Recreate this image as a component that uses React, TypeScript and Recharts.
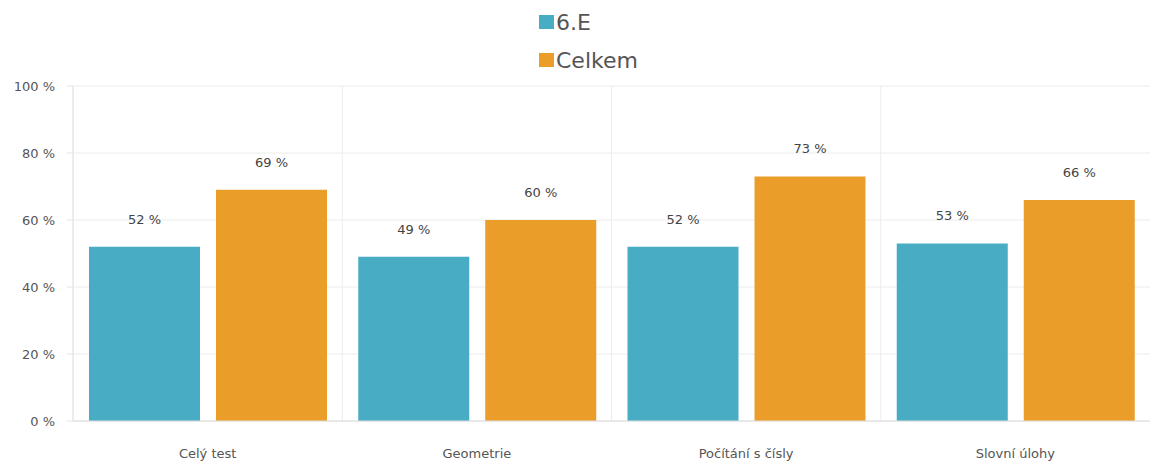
import React from "react";
import { BarChart, Bar, XAxis, YAxis, CartesianGrid, Legend, LabelList } from "recharts";

const categories = ["Celý test", "Geometrie", "Počítání s čísly", "Slovní úlohy"];
const classValues = [52, 49, 52, 53];
const totalValues = [69, 60, 73, 66];
const yTicks = [0, 20, 40, 60, 80, 100];

const series = [
  { key: "trida", name: "6.E", color: "#48adc4" },
  { key: "celkem", name: "Celkem", color: "#ea9e29" },
];

const data = categories.map((c, i) => ({ name: c, trida: classValues[i], celkem: totalValues[i] }));

const font = "'DejaVu Sans', Verdana, sans-serif";

// legend box sits absolutely so it doesn't eat plot space
function LegendBox() {
  return (
    <div style={{ position: "absolute", left: 539, top: 9, fontFamily: font }}>
      {series.map((s) => (
        <div key={s.key} style={{ display: "flex", alignItems: "center", height: 26, marginBottom: 12 }}>
          <span style={{ width: 15, height: 14, background: s.color, display: "inline-block", marginRight: 2 }} />
          <span style={{ fontSize: 22, color: "#555" }}>{s.name}</span>
        </div>
      ))}
    </div>
  );
}

export default function App() {
  return (
    <div style={{ position: "absolute", left: 0, top: 0, width: 1150, height: 464, background: "#fff" }}>
      <BarChart
        width={1150}
        height={464}
        data={data}
        margin={{ top: 86, right: 0, bottom: 0, left: 0 }}
        barCategoryGap={16}
        barGap={16}
      >
        <CartesianGrid
          stroke="#ececec"
          verticalCoordinatesGenerator={({ offset }: any) =>
            categories.map((_, i) => offset.left + (i * offset.width) / categories.length)
          }
        />
        <XAxis
          dataKey="name"
          height={43}
          tickLine={false}
          axisLine={{ stroke: "#dcdcdc" }}
          tickMargin={22}
          tick={{ fontSize: 13, fill: "#555", fontFamily: font }}
        />
        <YAxis
          width={73}
          domain={[0, 100]}
          ticks={yTicks}
          tickFormatter={(v: number) => `${v} %`}
          axisLine={{ stroke: "#e4e4e4" }}
          tickLine={{ stroke: "#e4e4e4" }}
          tickSize={6}
          tickMargin={12}
          tick={{ fontSize: 13, fill: "#555", fontFamily: font }}
        />
        <Legend
          content={() => <LegendBox />}
          wrapperStyle={{ position: "absolute", top: 0, left: 0, width: 1150, height: 0 }}
        />
        {series.map((s) => (
          <Bar key={s.key} dataKey={s.key} name={s.name} fill={s.color} isAnimationActive={false}>
            <LabelList
              dataKey={s.key}
              position="top"
              offset={23}
              formatter={(v: any) => `${v} %`}
              style={{ fontSize: 13, fill: "#444", fontFamily: font }}
            />
          </Bar>
        ))}
      </BarChart>
    </div>
  );
}
